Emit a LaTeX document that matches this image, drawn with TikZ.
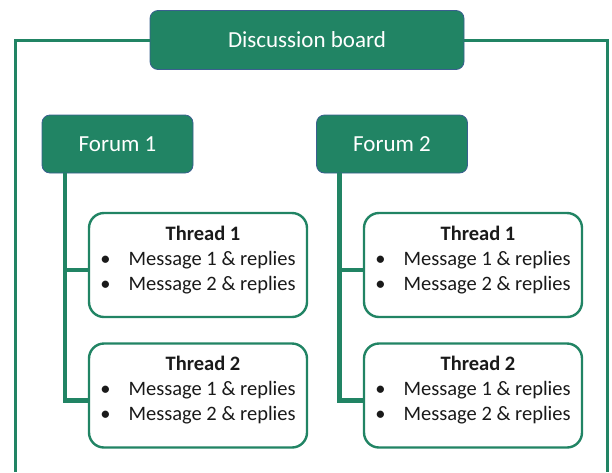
\documentclass[tikz,border=0pt]{standalone}
\usepackage{fontspec}
\setmainfont{Carlito}
\definecolor{BoardGreen}{HTML}{218464}
\definecolor{EdgeBlue}{HTML}{3A5F8F}
\definecolor{TextGrey}{HTML}{1A1A1A}
\usepackage{tikz}
\usetikzlibrary{positioning, calc}

% one thread: title plus its two message bullets
\newcommand{\threadtext}[1]{%
  \begin{tabular}{@{}l@{\hspace{18pt}}l@{}}
    \multicolumn{2}{c}{\hspace{10pt}\textbf{Thread #1}}\\
    \textbullet & Message 1 \& replies\\
    \textbullet & Message 2 \& replies\\[10pt]
  \end{tabular}}

\begin{document}
\begin{tikzpicture}[x=1pt, y=-1pt,
  board_node/.style={rectangle, rounded corners=8pt, fill=BoardGreen, draw=EdgeBlue, line width=0.8pt,
    text=white, font=\fontsize{23}{28}\selectfont, inner sep=0pt},
  thread_node/.style={rectangle, rounded corners=15pt, fill=white, draw=BoardGreen, line width=2.4pt,
    text=TextGrey, font=\fontsize{20.5}{25}\selectfont, inner sep=0pt, minimum height=104pt},
  frame_line/.style={draw=BoardGreen, line width=3pt},
  trunk_line/.style={draw=BoardGreen, line width=4.5pt},
]
  \useasboundingbox (0,0) rectangle (612,472);

  \node[board_node, minimum width=314pt, minimum height=59pt] (board) at (307,40) {Discussion board};
  \coordinate (frameL) at (15,472);
  \coordinate (frameR) at (607,472);
  \draw[frame_line] (board.west) -| (frameL);
  \draw[frame_line] (board.east) -| (frameR);

  % two forums, each with two threads hanging off a trunk
  \foreach \f/\fx/\tx in {1/117.5/198, 2/392/473}{
    \node[board_node, minimum width=151pt, minimum height=58pt] (f\f) at (\fx,144) {Forum \f};
    \node[thread_node, minimum width=218pt] (t\f1) at (\tx,265) {\threadtext{1}};
    \node[thread_node, minimum width=218pt] (t\f2) at (\tx,395.5) {\threadtext{2}};
    \foreach \t in {1,2}
      \draw[trunk_line] ([xshift=23.5pt]f\f.south west) |- ([yshift=-5pt]t\f\t.west);
  }
\end{tikzpicture}
\end{document}
